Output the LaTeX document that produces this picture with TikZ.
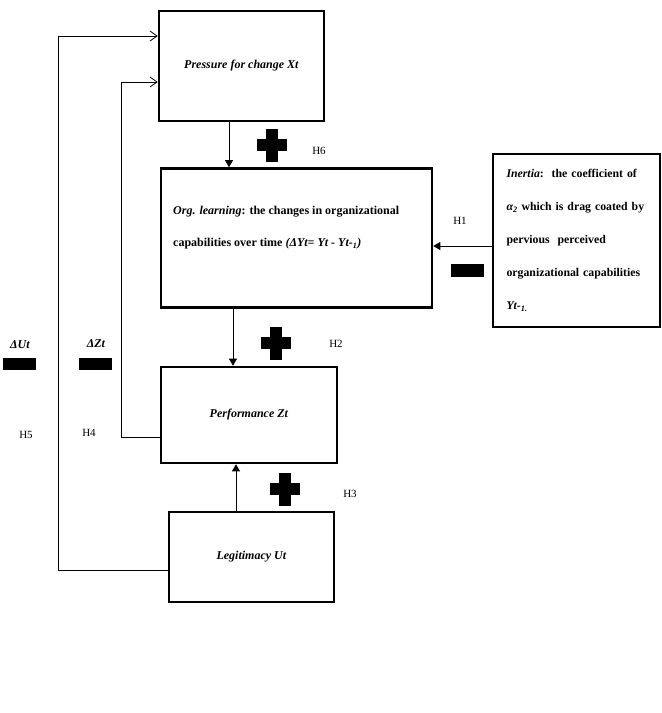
\documentclass[tikz,border=0pt]{standalone}
\usepackage{fontspec}
\setmainfont{Liberation Serif}
\usetikzlibrary{arrows.meta,calc}
\begin{document}
\begin{tikzpicture}
	[x=1pt, y=-1pt, font=\fontsize{12}{14}\selectfont\bfseries,
	box/.style ={draw, line width=2.6pt, inner sep=0pt},
	txt/.style ={inner sep=0pt, align=left},
	hyp/.style ={font=\fontsize{11}{13}\selectfont},
	plussign/.style ={minimum width=30pt, minimum height=33pt, inner sep=0pt,
		path picture={\fill (path picture bounding box.center) ++(-15pt,-6pt) rectangle ++(30pt,12pt);
			\fill (path picture bounding box.center) ++(-6pt,-16.5pt) rectangle ++(12pt,33pt);}},
	minussign/.style ={fill, minimum width=33pt, minimum height=12.5pt, inner sep=0pt},
	link/.style ={line width=0.8pt, -{Triangle[length=7pt,width=8pt]}},
	back/.style ={line width=0.8pt, -{Straight Barb[length=7pt,width=10pt]}}]
	\useasboundingbox (0,0) rectangle (662,713);
	\node[box, minimum width=165pt, minimum height=110pt] (press) at (241.5,66) {\textit{Pressure for change Xt}};
	\node[box, minimum width=271pt, minimum height=139pt] (org) at (296.5,238) {};
	\node[txt, anchor=west, font=\fontsize{12}{32}\selectfont\bfseries] (orgtxt) at (173,228)
		{\textit{Org. learning}: the changes in organizational\\capabilities over time \textit{(ΔYt= Yt - Yt-\textsubscript{1})}};
	\node[box, txt, text width=140pt, inner xsep=13.5pt, minimum height=173pt,
		font=\fontsize{11.8}{33}\selectfont\bfseries] (inertia) at (576.5,240.5)
		{\textit{Inertia}:\ \ the coefficient of\\\textit{α\textsubscript{2}} which is drag coated by\\pervious\ \ perceived\\organizational capabilities\\\textit{Yt-\textsubscript{1.}}};
	\node[box, minimum width=176pt, minimum height=96pt] (perf) at (249,415) {\textit{Performance Zt}};
	\node[box, minimum width=165pt, minimum height=90pt] (legit) at (251.5,557) {\textit{Legitimacy Ut}};

	\draw[link] ([xshift=-12.5pt]press.south) -- ([xshift=-12.5pt]press.south |- org.north);
	\draw[link] ([xshift=-63.5pt]org.south) -- ([xshift=-63.5pt]org.south |- perf.north);
	\draw[link] ([xshift=-15.5pt]legit.north) -- ([xshift=-15.5pt]legit.north |- perf.south);
	\draw[link] ([yshift=-5.5pt]inertia.west) -- ([yshift=-5.5pt]inertia.west -| org.east);
	\draw[back] ([yshift=-22pt]perf.west) -| (121,82) -- (121,82 -| press.west);
	\draw[back] ([yshift=-13pt]legit.west) -| (58,36) -- (58,36 -| press.west);

	\node[plussign] (p6) at (272,145) {};
	\node[plussign] (p2) at (276,343) {};
	\node[plussign] (p3) at (285,489) {};
	\node[minussign] (m1) at (467.5,270.5) {};
	\node[minussign] (m5) at (19.5,364) {};
	\node[minussign] (m4) at (95.5,364) {};

	\node[hyp] (h6) at (319,151) {H6};
	\node[hyp] (h1) at (460,221) {H1};
	\node[hyp] (h2) at (336,344) {H2};
	\node[hyp] (h3) at (350,494) {H3};
	\node[hyp] (h5) at (26,435) {H5};
	\node[hyp] (h4) at (89,433) {H4};
	\node (du) at (20,345) {\textit{ΔUt}};
	\node (dz) at (96,344) {\textit{ΔZt}};
\end{tikzpicture}
\end{document}
